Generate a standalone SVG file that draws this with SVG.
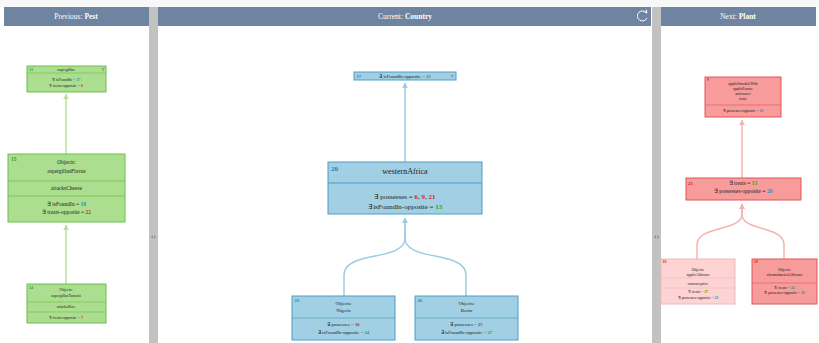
<svg xmlns="http://www.w3.org/2000/svg" width="819" height="343" viewBox="0 0 819 343">
<defs>
<style>
text{font-family:"Liberation Serif","Times New Roman",serif;fill:#222;text-anchor:middle}
.hd{fill:#fff;font-size:7.5px}
.hd tspan{font-weight:bold;fill:#fff}
.id{text-anchor:start;font-weight:bold}
.b{fill:#1f8fd0;font-weight:bold}
.r{fill:#e02020;font-weight:bold}
.g{fill:#1ea81e;font-weight:bold}
.gn{fill:#abdf8f;stroke:#6cc04a;stroke-width:1}
.bl{fill:#a1cfe3;stroke:#4d9dc6;stroke-width:1}
.rd{fill:#f79b9b;stroke:#e2555a;stroke-width:1}
.pk{fill:#fdd3d3;stroke:#f3b8b8;stroke-width:1}
.cg{fill:none;stroke:#b7e29c;stroke-width:1.5}
.cb{fill:none;stroke:#9ccde2;stroke-width:1.5}
.cr{fill:none;stroke:#f7b3b3;stroke-width:1.5}
</style>
<marker id="ag" viewBox="0 0 10 10" refX="9" refY="5" markerWidth="4" markerHeight="4" orient="auto"><path d="M0,0L10,5L0,10z" fill="#b7e29c"/></marker>
<marker id="ab" viewBox="0 0 10 10" refX="9" refY="5" markerWidth="4" markerHeight="4" orient="auto"><path d="M0,0L10,5L0,10z" fill="#9ccde2"/></marker>
<marker id="ar" viewBox="0 0 10 10" refX="9" refY="5" markerWidth="4" markerHeight="4" orient="auto"><path d="M0,0L10,5L0,10z" fill="#f7b3b3"/></marker>
</defs>
<rect width="819" height="343" fill="#fff"/>
<rect x="0" y="0" width="819" height="7" fill="#f8f8f8"/>
<!-- headers -->
<g id="headers">
<rect x="4" y="7" width="145" height="19" fill="#6e84a0"/>
<rect x="158" y="7" width="493" height="19" fill="#6e84a0"/>
<rect x="661" y="7" width="155" height="19" fill="#6e84a0"/>
<text class="hd" x="76" y="19">Previous: <tspan>Pest</tspan></text>
<text class="hd" x="405" y="19">Current: <tspan>Country</tspan></text>
<text class="hd" x="738" y="19">Next: <tspan>Plant</tspan></text>
<path d="M646.5,13 A5,5 0 1 0 647,18" fill="none" stroke="#fff" stroke-width="1"/>
<path d="M644,11.5 L647,12.8 L646.3,9.6" fill="none" stroke="#fff" stroke-width="1"/>
</g>
<!-- dividers -->
<g id="dividers">
<rect x="149" y="7" width="9" height="336" fill="#c2c2c2"/>
<rect x="652" y="7" width="9" height="336" fill="#c2c2c2"/>
<path d="M152.8,235 L151,237 L152.8,239z M154.2,235 L156,237 L154.2,239z" fill="#8a8a8a"/>
<path d="M655.8,235 L654,237 L655.8,239z M657.2,235 L659,237 L657.2,239z" fill="#8a8a8a"/>
</g>
<!-- connectors -->
<g id="connectors">
<path class="cg" d="M66,284 L66,225" marker-end="url(#ag)"/>
<path class="cg" d="M66,154 L66,94" marker-end="url(#ag)"/>
<path class="cb" d="M344,296 L344,275 C344,250 405,262 405,238 L405,218" marker-end="url(#ab)"/>
<path class="cb" d="M466,296 L466,275 C466,250 405,262 405,238 L405,218" marker-end="url(#ab)"/>
<path class="cb" d="M405,162 L405,83" marker-end="url(#ab)"/>
<path class="cr" d="M697,259 L697,245 C697,225 742,232 742,214 L742,204" marker-end="url(#ar)"/>
<path class="cr" d="M784,259 L784,245 C784,225 742,232 742,214 L742,204" marker-end="url(#ar)"/>
<path class="cr" d="M742,178 L742,120" marker-end="url(#ar)"/>
</g>
<!-- left panel -->
<g id="n13">
<rect class="gn" x="27" y="66" width="79" height="26"/>
<line x1="27" y1="73" x2="106" y2="73" stroke="#6cc04a" stroke-width="0.6"/>
<text class="id" x="29" y="70.5" font-size="4" fill="#2e9c2e" style="fill:#2e9c2e">13</text>
<text x="66" y="70.5" font-size="4">aspergillus</text>
<text x="103" y="70.5" font-size="4.5" style="fill:#555">T</text>
<text x="66" y="81" font-size="4">∃ isFoundIn = <tspan class="b">17</tspan></text>
<text x="66" y="86.5" font-size="4">∃ treats-opposite = <tspan class="r">6</tspan></text>
</g>
<g id="n15">
<rect class="gn" x="8" y="154" width="117" height="68"/>
<line x1="8" y1="181" x2="125" y2="181" stroke="#6cc04a" stroke-width="0.8"/>
<line x1="8" y1="196" x2="125" y2="196" stroke="#6cc04a" stroke-width="0.8"/>
<text class="id" x="11" y="160.5" font-size="5.5" style="fill:#2e9c2e">15</text>
<text x="66.5" y="164" font-size="5.5">Objects:</text>
<text x="66.5" y="172.5" font-size="5.5">aspergillusFlavus</text>
<text x="66.5" y="190" font-size="5.5">attacksCheese</text>
<text x="66.5" y="205.5" font-size="5.5">∃ isFoundIn = <tspan class="b">18</tspan></text>
<text x="66.5" y="214" font-size="5.5">∃ treats-opposite = <tspan class="r">22</tspan></text>
</g>
<g id="n14">
<rect class="gn" x="27" y="284" width="79" height="39"/>
<line x1="27" y1="302" x2="106" y2="302" stroke="#6cc04a" stroke-width="0.6"/>
<line x1="27" y1="312" x2="106" y2="312" stroke="#6cc04a" stroke-width="0.6"/>
<text class="id" x="29" y="288.5" font-size="4" style="fill:#2e9c2e">14</text>
<text x="66" y="291" font-size="4">Objects:</text>
<text x="66" y="296.5" font-size="4">aspergillusTamarii</text>
<text x="66" y="308" font-size="4">attacksRice</text>
<text x="66" y="318.5" font-size="4">∃ treats-opposite = <tspan class="r">7</tspan></text>
</g>
<!-- center panel -->
<g id="n17">
<rect class="bl" x="354" y="72" width="102" height="8"/>
<text class="id" x="356.5" y="77.8" font-size="4.5" style="fill:#2a7ab8">17</text>
<text x="405" y="77.8" font-size="4.8">∃ isFoundIn-opposite = <tspan class="g">13</tspan></text>
<text x="452" y="77.8" font-size="4.5" style="fill:#555">T</text>
</g>
<g id="n20">
<rect class="bl" x="328" y="162" width="154" height="52" stroke-width="1.3"/>
<line x1="328" y1="183" x2="482" y2="183" stroke="#4d9dc6" stroke-width="1"/>
<text class="id" x="331" y="171" font-size="7" style="fill:#2a7ab8">20</text>
<text x="405" y="174" font-size="8">westernAfrica</text>
<text x="405" y="199" font-size="7">∃ possesses = <tspan class="r">6</tspan>, <tspan class="r">9</tspan>, <tspan class="r">21</tspan></text>
<text x="405" y="208.5" font-size="7">∃ isFoundIn-opposite = <tspan class="g">13</tspan></text>
</g>
<g id="n23">
<rect class="bl" x="292" y="296" width="103" height="44"/>
<line x1="292" y1="318" x2="395" y2="318" stroke="#4d9dc6" stroke-width="0.7"/>
<text class="id" x="294.5" y="301.5" font-size="4.5" style="fill:#2a7ab8">23</text>
<text x="343.5" y="305" font-size="4.8">Objects:</text>
<text x="343.5" y="312" font-size="4.8">Nigeria</text>
<text x="343.5" y="326" font-size="4.8">∃ possesses = <tspan class="r">10</tspan></text>
<text x="343.5" y="333.5" font-size="4.8">∃ isFoundIn-opposite = <tspan class="g">24</tspan></text>
</g>
<g id="n26">
<rect class="bl" x="415" y="296" width="103" height="44"/>
<line x1="415" y1="318" x2="518" y2="318" stroke="#4d9dc6" stroke-width="0.7"/>
<text class="id" x="417.5" y="301.5" font-size="4.5" style="fill:#2a7ab8">26</text>
<text x="466.5" y="305" font-size="4.8">Objects:</text>
<text x="466.5" y="312" font-size="4.8">Benin</text>
<text x="466.5" y="326" font-size="4.8">∃ possesses = <tspan class="r">25</tspan></text>
<text x="466.5" y="333.5" font-size="4.8">∃ isFoundIn-opposite = <tspan class="g">27</tspan></text>
</g>
<!-- right panel -->
<g id="n9">
<rect class="rd" x="705" y="77" width="76" height="40"/>
<line x1="705" y1="105" x2="781" y2="105" stroke="#e2555a" stroke-width="0.6"/>
<text class="id" x="707" y="81" font-size="3.8" style="fill:#d42020">9</text>
<text x="743" y="84.5" font-size="3.8">applicStorableWith</text>
<text x="743" y="89.5" font-size="3.8">applicEnsure</text>
<text x="743" y="94.5" font-size="3.8">anticancer</text>
<text x="743" y="99.5" font-size="3.8">toxic</text>
<text x="743" y="111.5" font-size="3.8">∃ possesses-opposite = <tspan class="b">20</tspan></text>
</g>
<g id="n21">
<rect class="rd" x="686" y="178" width="115" height="22" stroke-width="1.2"/>
<text class="id" x="688" y="185" font-size="5" style="fill:#d42020">21</text>
<text x="743" y="185" font-size="5.5">∃ treats = <tspan class="g">13</tspan></text>
<text x="743" y="193" font-size="5.5">∃ possesses-opposite = <tspan class="b">20</tspan></text>
</g>
<g id="n18">
<rect class="pk" x="661" y="259" width="74" height="45"/>
<line x1="661" y1="278" x2="735" y2="278" stroke="#f3b8b8" stroke-width="0.6"/>
<line x1="661" y1="288" x2="735" y2="288" stroke="#f3b8b8" stroke-width="0.6"/>
<text class="id" x="662.5" y="263" font-size="3.8" style="fill:#d42020">18</text>
<text x="698" y="271" font-size="3.8">Objects:</text>
<text x="698" y="276" font-size="3.8">applicAlbicans</text>
<text x="698" y="284.5" font-size="3.8">contraceptive</text>
<text x="698" y="293" font-size="3.8">∃ treats = <tspan class="g">17</tspan></text>
<text x="698" y="298.5" font-size="3.8">∃ possesses-opposite = <tspan class="b">23</tspan></text>
</g>
<g id="n19">
<rect class="rd" x="752" y="259" width="65" height="45"/>
<line x1="752" y1="283" x2="817" y2="283" stroke="#e2555a" stroke-width="0.6"/>
<text class="id" x="754" y="263" font-size="3.8" style="fill:#d42020">19</text>
<text x="784.5" y="271" font-size="3.8">Objects:</text>
<text x="784.5" y="276" font-size="3.8">chromobacteriAlbicans</text>
<text x="784.5" y="289" font-size="3.8">∃ treats = <tspan class="g">24</tspan></text>
<text x="784.5" y="294" font-size="3.8">∃ possesses-opposite = <tspan class="b">16</tspan></text>
</g>
</svg>
